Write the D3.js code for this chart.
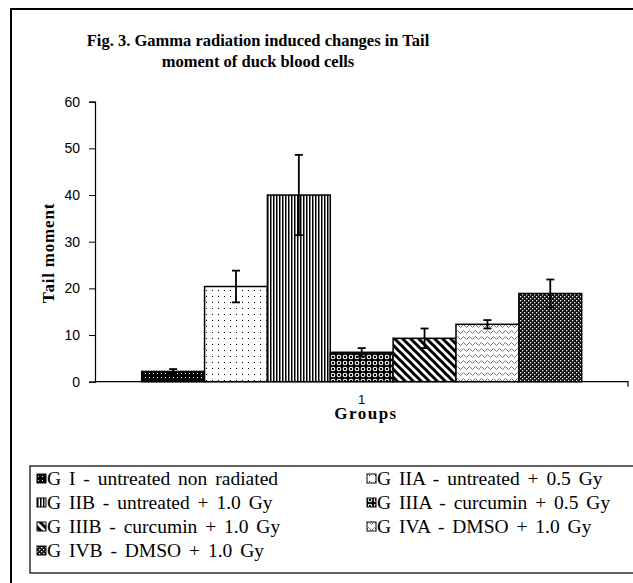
<!DOCTYPE html>
<html>
<head>
<meta charset="utf-8">
<script src="https://cdn.jsdelivr.net/npm/d3@7"></script>
<style>
  body { margin: 0; background: #fff; }
  svg { display: block; }
</style>
</head>
<body>
<svg width="633" height="583"></svg>
<script>
// chart data
const groups = ['GI', 'GIIA', 'GIIB', 'GIIIA', 'GIIIB', 'GIVA', 'GIVB'];
const tailMoment = [2.2, 20.4, 40.0, 6.3, 9.3, 12.3, 18.9];
const errors = [0.5, 3.4, 8.6, 0.9, 2.1, 0.9, 3.0];
const legendLabels = [
  'G I - untreated non radiated',
  'G IIA - untreated + 0.5 Gy',
  'G IIB - untreated + 1.0 Gy',
  'G IIIA - curcumin + 0.5 Gy',
  'G IIIB - curcumin + 1.0 Gy',
  'G IVA - DMSO + 1.0 Gy',
  'G IVB - DMSO + 1.0 Gy'
];
const yTicks = [0, 10, 20, 30, 40, 50, 60];
const categories = ['1'];

const svg = d3.select('svg');
const defs = svg.append('defs');

// fill patterns, one per group (Excel style hatches)
function pattern(id, w, h, draw) {
  const p = defs.append('pattern').attr('id', id)
    .attr('patternUnits', 'userSpaceOnUse').attr('width', w).attr('height', h);
  draw(p);
}
pattern('p0', 4, 4, p => {
  p.append('rect').attr('width', 4).attr('height', 4).attr('fill', '#000');
  p.append('rect').attr('x', 1).attr('y', 1).attr('width', 1).attr('height', 1).attr('fill', '#fff');
});
pattern('p1', 6, 6, p => {
  p.append('rect').attr('width', 6).attr('height', 6).attr('fill', '#fff');
  p.append('rect').attr('x', 2).attr('y', 2).attr('width', 1).attr('height', 1).attr('fill', '#000');
});
pattern('p2', 3, 4, p => {
  p.append('rect').attr('width', 3).attr('height', 4).attr('fill', '#fff');
  p.append('rect').attr('width', 1.5).attr('height', 4).attr('fill', '#000');
});
pattern('p3', 6, 6, p => {
  p.append('rect').attr('width', 6).attr('height', 6).attr('fill', '#000');
  p.append('circle').attr('cx', 3).attr('cy', 3).attr('r', 1.8).attr('fill', 'none').attr('stroke', '#fff').attr('stroke-width', 1.1);
});
pattern('p4', 8, 8, p => {
  p.append('rect').attr('width', 8).attr('height', 8).attr('fill', '#fff');
  p.append('path').attr('d', 'M-2,-2 L10,10 M-6,2 L2,10 M6,-2 L10,2')
    .attr('stroke', '#000').attr('stroke-width', 3);
});
pattern('p5', 6, 6, p => {
  p.append('rect').attr('width', 6).attr('height', 6).attr('fill', '#fff');
  p.append('path').attr('d', 'M0,2 L1.5,0.5 L3,2 L4.5,3.5 L6,2')
    .attr('fill', 'none').attr('stroke', '#777').attr('stroke-width', 1);
});
pattern('p6', 4, 4, p => {
  p.append('rect').attr('width', 4).attr('height', 4).attr('fill', '#111');
  p.append('rect').attr('x', 0).attr('y', 0).attr('width', 1.3).attr('height', 1.3).attr('fill', '#fff');
  p.append('rect').attr('x', 2).attr('y', 2).attr('width', 1.3).attr('height', 1.3).attr('fill', '#fff');
});

// outer frame (only top and left visible)
svg.append('path').attr('d', 'M11,640 L11,9 L640,9')
  .attr('fill', 'none').attr('stroke', '#000').attr('stroke-width', 2);

// title
const title = svg.append('text').attr('text-anchor', 'middle')
  .attr('font-family', 'Liberation Serif').attr('font-weight', 'bold').attr('font-size', 16.5);
title.append('tspan').attr('x', 258).attr('y', 46).text('Fig. 3. Gamma radiation induced changes in Tail');
title.append('tspan').attr('x', 258).attr('y', 67).text('moment of duck blood cells');

const y = d3.scaleLinear().domain([0, 60]).range([381.7, 101.7]);
const xOuter = d3.scaleBand().domain(categories).range([95, 628]);
const x = d3.scaleBand().domain(groups)
  .range([xOuter('1') + 46.7, xOuter('1') + xOuter.bandwidth() - 46.3]);

// y axis
const yAxis = svg.append('g').attr('transform', 'translate(95,0)')
  .call(d3.axisLeft(y).tickValues(yTicks).tickSize(6).tickPadding(9));
yAxis.select('.domain').attr('stroke', '#000').attr('stroke-width', 1.2);
yAxis.selectAll('.tick line').attr('stroke', '#000');
yAxis.selectAll('.tick text').attr('font-family', 'Liberation Sans').attr('font-size', 14).attr('fill', '#000');

// bars
svg.selectAll('.bar').data(groups).enter().append('rect')
  .attr('class', 'bar')
  .attr('x', d => x(d))
  .attr('width', x.bandwidth())
  .attr('y', (d, i) => y(tailMoment[i]))
  .attr('height', (d, i) => y(0) - y(tailMoment[i]))
  .attr('fill', (d, i) => 'url(#p' + i + ')')
  .attr('stroke', '#000').attr('stroke-width', 1.5);

// error bars
const eb = svg.selectAll('.err').data(groups).enter().append('g').attr('class', 'err')
  .attr('stroke', '#000').attr('stroke-width', 1.8);
eb.append('line')
  .attr('x1', d => x(d) + x.bandwidth() / 2).attr('x2', d => x(d) + x.bandwidth() / 2)
  .attr('y1', (d, i) => y(tailMoment[i] + errors[i]))
  .attr('y2', (d, i) => y(Math.max(0, tailMoment[i] - errors[i])));
eb.append('line')
  .attr('x1', d => x(d) + x.bandwidth() / 2 - 4).attr('x2', d => x(d) + x.bandwidth() / 2 + 4)
  .attr('y1', (d, i) => y(tailMoment[i] + errors[i])).attr('y2', (d, i) => y(tailMoment[i] + errors[i]));
eb.append('line')
  .attr('x1', d => x(d) + x.bandwidth() / 2 - 4).attr('x2', d => x(d) + x.bandwidth() / 2 + 4)
  .attr('y1', (d, i) => y(Math.max(0, tailMoment[i] - errors[i])))
  .attr('y2', (d, i) => y(Math.max(0, tailMoment[i] - errors[i])));

// x axis
const xAxis = svg.append('g').attr('transform', 'translate(0,' + y(0) + ')')
  .call(d3.axisBottom(xOuter).tickSize(0).tickPadding(13));
xAxis.select('.domain').attr('d', 'M95,0H628V5').attr('stroke', '#000').attr('stroke-width', 1.2).attr('fill', 'none');
xAxis.selectAll('.tick text').attr('font-family', 'Liberation Sans').attr('font-size', 13).attr('fill', '#000');

// axis titles
svg.append('text').attr('x', 366).attr('y', 419).attr('text-anchor', 'middle')
  .attr('font-family', 'Liberation Serif').attr('font-weight', 'bold').attr('font-size', 17)
  .attr('letter-spacing', 1.5)
  .text('Groups');
svg.append('text').attr('transform', 'translate(54,253) rotate(-90)').attr('text-anchor', 'middle')
  .attr('font-family', 'Liberation Serif').attr('font-weight', 'bold').attr('font-size', 17)
  .attr('letter-spacing', 0.8)
  .text('Tail moment');

// legend
const legend = svg.append('g');
legend.append('rect').attr('x', 30).attr('y', 466).attr('width', 640).attr('height', 107)
  .attr('fill', '#fff').attr('stroke', '#000').attr('stroke-width', 1.2);
const item = legend.selectAll('.item').data(legendLabels).enter().append('g')
  .attr('transform', (d, i) => 'translate(' + (i % 2 ? 367 : 37) + ',' + (479 + Math.floor(i / 2) * 24) + ')');
item.append('rect').attr('x', 0).attr('y', -5).attr('width', 9).attr('height', 9)
  .attr('fill', (d, i) => 'url(#p' + i + ')').attr('stroke', '#000').attr('stroke-width', 1);
item.append('text').attr('x', 10).attr('y', 6)
  .attr('font-family', 'Liberation Serif').attr('font-size', 19.5).attr('word-spacing', 3)
  .text(d => d);
</script>
</body>
</html>
